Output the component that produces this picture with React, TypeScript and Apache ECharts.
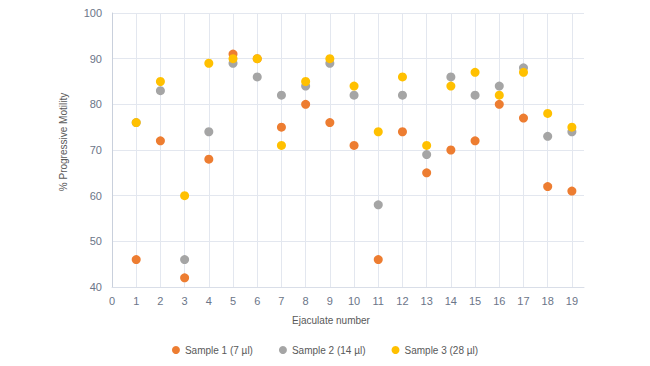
import React, { useEffect, useRef } from "react";
import * as echarts from "echarts";

const ejaculates = [1, 2, 3, 4, 5, 6, 7, 8, 9, 10, 11, 12, 13, 14, 15, 16, 17, 18, 19];
const sample1 = [46, 72, 42, 68, 91, 90, 75, 80, 76, 71, 46, 74, 65, 70, 72, 80, 77, 62, 61];
const sample2 = [76, 83, 46, 74, 89, 86, 82, 84, 89, 82, 58, 82, 69, 86, 82, 84, 88, 73, 74];
const sample3 = [76, 85, 60, 89, 90, 90, 71, 85, 90, 84, 74, 86, 71, 84, 87, 82, 87, 78, 75];
const seriesNames = ["Sample 1 (7 µl)", "Sample 2 (14 µl)", "Sample 3 (28 µl)"];
const colors = ["#ED7D31", "#A5A5A5", "#FFC000"];

export default function App() {
  const ref = useRef<HTMLDivElement>(null);
  useEffect(() => {
    const chart = echarts.init(ref.current!, null, { renderer: "svg" });
    const all = [sample1, sample2, sample3];
    chart.setOption({
      animation: false,
      backgroundColor: "#ffffff",
      textStyle: { fontFamily: "Arial, Liberation Sans, sans-serif" },
      grid: { left: 112, top: 13, right: 66, bottom: 79 },
      legend: {
        bottom: 6,
        left: "center",
        icon: "circle",
        itemWidth: 8,
        itemHeight: 8,
        itemGap: 26,
        textStyle: { color: "#595959", fontSize: 10 },
        data: seriesNames,
      },
      xAxis: {
        type: "value",
        min: 0,
        max: 19.5,
        interval: 1,
        name: "Ejaculate number",
        nameLocation: "middle",
        nameGap: 28,
        nameTextStyle: { color: "#595959", fontSize: 10, padding: [0, 34, 0, 0] },
        axisLine: { show: true, lineStyle: { color: "#D9DEE8" } },
        axisTick: { show: false },
        axisLabel: { color: "#6B7588", fontSize: 11, showMaxLabel: false, margin: 8 },
        splitLine: { show: true, showMaxLine: false, lineStyle: { color: "#E3E7EF", width: 1 } },
      },
      yAxis: {
        type: "value",
        min: 40,
        max: 100,
        interval: 10,
        name: "% Progressive Motility",
        nameLocation: "middle",
        nameGap: 44,
        nameTextStyle: { color: "#595959", fontSize: 10, padding: [0, 0, 0, 16] },
        axisLine: { show: true, lineStyle: { color: "#C9D0DC" } },
        axisTick: { show: false },
        axisLabel: { color: "#6B7588", fontSize: 11, margin: 10 },
        splitLine: { show: true, lineStyle: { color: "#E3E7EF", width: 1 } },
      },
      series: all.map((vals, i) => ({
        name: seriesNames[i],
        type: "scatter",
        symbol: "circle",
        symbolSize: 9,
        itemStyle: { color: colors[i], opacity: 1 },
        data: ejaculates.map((e, j) => [e, vals[j]]),
        z: 2 + i,
      })),
    });
    return () => chart.dispose();
  }, []);
  return <div ref={ref} style={{ width: 650, height: 366, margin: -8 }} />;
}
